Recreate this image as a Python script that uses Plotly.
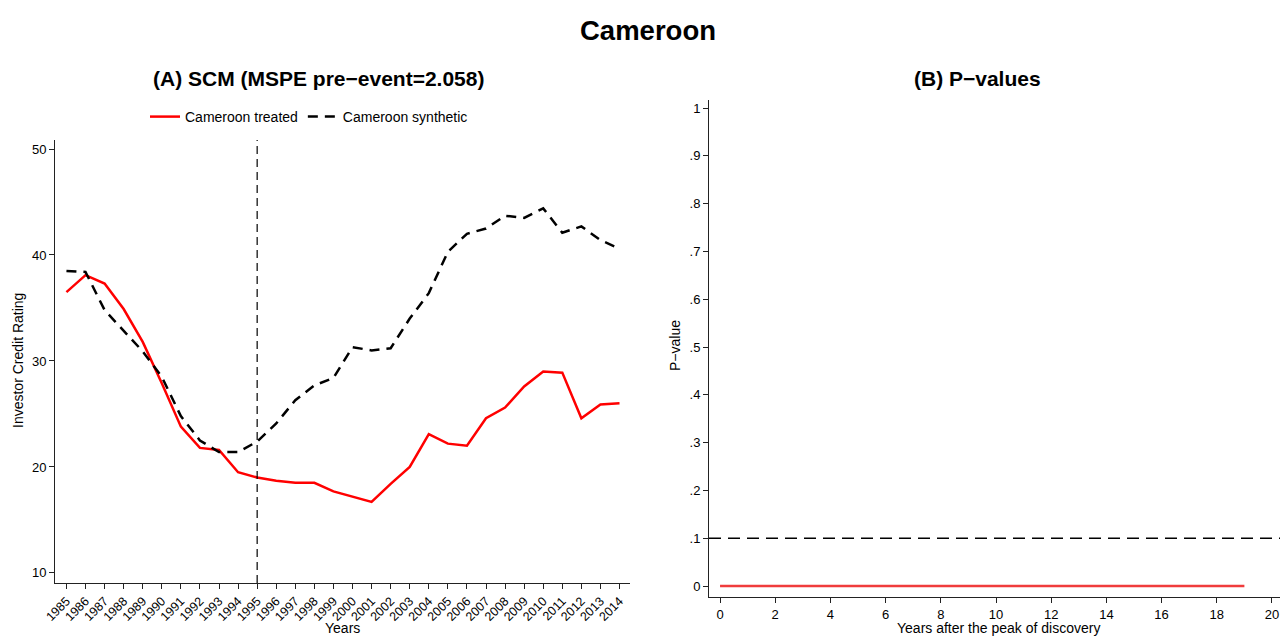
import plotly.graph_objects as go

years = list(range(1985, 2015))
year_labels = [str(y) for y in years]
treated = [36.5, 38.1, 37.3, 34.9, 31.8, 27.9, 23.8, 21.8, 21.6, 19.5,
           19.0, 18.7, 18.5, 18.5, 17.7, 17.2, 16.7, 18.4, 20.0, 23.1,
           22.2, 22.0, 24.6, 25.6, 27.6, 29.0, 28.9, 24.6, 25.9, 26.0]
synthetic = [38.5, 38.4, 34.8, 32.9, 30.9, 28.5, 24.8, 22.5, 21.4, 21.4,
             22.4, 24.1, 26.3, 27.7, 28.4, 31.3, 31.0, 31.2, 34.0, 36.4,
             40.3, 42.0, 42.5, 43.7, 43.5, 44.4, 42.1, 42.7, 41.4, 40.6]
event_year = 1995

years_after = [0, 1, 2, 3, 4, 5, 6, 7, 8, 9, 10, 11, 12, 13, 14, 15, 16, 17, 18, 19]
pvalues = [0, 0, 0, 0, 0, 0, 0, 0, 0, 0, 0, 0, 0, 0, 0, 0, 0, 0, 0, 0]
p_threshold = 0.1
p_ticks = [0, 0.1, 0.2, 0.3, 0.4, 0.5, 0.6, 0.7, 0.8, 0.9, 1]
p_ticklabels = ["0", ".1", ".2", ".3", ".4", ".5", ".6", ".7", ".8", ".9", "1"]
left_yticks = [10, 20, 30, 40, 50]
right_xticks = [0, 2, 4, 6, 8, 10, 12, 14, 16, 18, 20]

FONT = "Liberation Sans, Arial, sans-serif"
W, H = 1288, 637
OFF = 8  # page body margin

def px_x(p):
    return (p - OFF) / W

def px_y(p):
    return (H - (p - OFF)) / H

fig = go.Figure()

fig.add_trace(go.Scatter(x=years, y=treated, mode="lines", name="Cameroon treated",
                         line=dict(color="#ff0000", width=2.5), xaxis="x", yaxis="y"))
fig.add_trace(go.Scatter(x=years, y=synthetic, mode="lines", name="Cameroon synthetic",
                         line=dict(color="black", width=2.5, dash="10px,7px"), xaxis="x", yaxis="y"))
fig.add_trace(go.Scatter(x=years_after, y=pvalues, mode="lines", showlegend=False,
                         line=dict(color="#f03c3c", width=2.5), xaxis="x2", yaxis="y2"))

axis_common = dict(showgrid=False, zeroline=False, showline=True, linecolor="#222",
                   linewidth=1, ticks="outside", ticklen=5, tickcolor="#222", automargin=False,
                   ticklabeloverflow="allow",
                   tickfont=dict(family=FONT, size=13, color="black"))

fig.update_layout(
    template="none",
    width=W, height=H,
    margin=dict(l=0, r=0, t=0, b=0, autoexpand=False),
    paper_bgcolor="white", plot_bgcolor="white",
    font=dict(family=FONT, color="black"),
    xaxis=dict(domain=[px_x(55), px_x(630)], range=[1984.4, 2014.55],
               tickvals=years, ticktext=year_labels, tickangle=-45,
               anchor="y", **{**axis_common, "tickfont": dict(family=FONT, size=12.5, color="black")}),
    yaxis=dict(domain=[px_y(583), px_y(140)], range=[9.05, 50.85],
               tickvals=left_yticks, anchor="x", **axis_common),
    xaxis2=dict(domain=[px_x(709), 1.0], range=[-0.4, 20.87],
                tickvals=right_xticks, anchor="y2", **axis_common),
    yaxis2=dict(domain=[px_y(597), px_y(100)], range=[-0.023, 1.017],
                tickvals=p_ticks, ticktext=p_ticklabels, anchor="x2", **axis_common),
    legend=dict(orientation="h", x=px_x(309), y=px_y(117), xanchor="center", yanchor="middle",
                font=dict(family=FONT, size=14), itemwidth=30, bgcolor="rgba(0,0,0,0)"),
)

fig.add_shape(type="line", xref="x", yref="y domain", x0=event_year, x1=event_year, y0=0, y1=1,
              line=dict(color="black", width=1.2, dash="8px,5px"))
fig.add_shape(type="line", xref="x2 domain", yref="y2", x0=0, x1=1, y0=p_threshold, y1=p_threshold,
              line=dict(color="black", width=1.5, dash="12px,7px"))

ann = [
    dict(text="<b>Cameroon</b>", x=px_x(648), y=px_y(30), size=27.5),
    dict(text="<b>(A) SCM (MSPE pre\u2212event=2.058)</b>", x=px_x(318), y=px_y(79), size=21),
    dict(text="<b>(B) P\u2212values</b>", x=px_x(977), y=px_y(79), size=21),
    dict(text="Years", x=px_x(342), y=px_y(628), size=14),
    dict(text="Years after the peak of discovery", x=px_x(998), y=px_y(628), size=14),
]
for a in ann:
    fig.add_annotation(text=a["text"], x=a["x"], y=a["y"], xref="paper", yref="paper",
                       showarrow=False, xanchor="center", yanchor="middle",
                       font=dict(family=FONT, size=a["size"], color="black"))
fig.add_annotation(text="Investor Credit Rating", x=px_x(18), y=px_y(361), xref="paper", yref="paper",
                   showarrow=False, textangle=-90, xanchor="center", yanchor="middle",
                   font=dict(family=FONT, size=14, color="black"))
fig.add_annotation(text="P\u2212value", x=px_x(675), y=px_y(346), xref="paper", yref="paper",
                   showarrow=False, textangle=-90, xanchor="center", yanchor="middle",
                   font=dict(family=FONT, size=14, color="black"))

fig.write_html("out.html")
